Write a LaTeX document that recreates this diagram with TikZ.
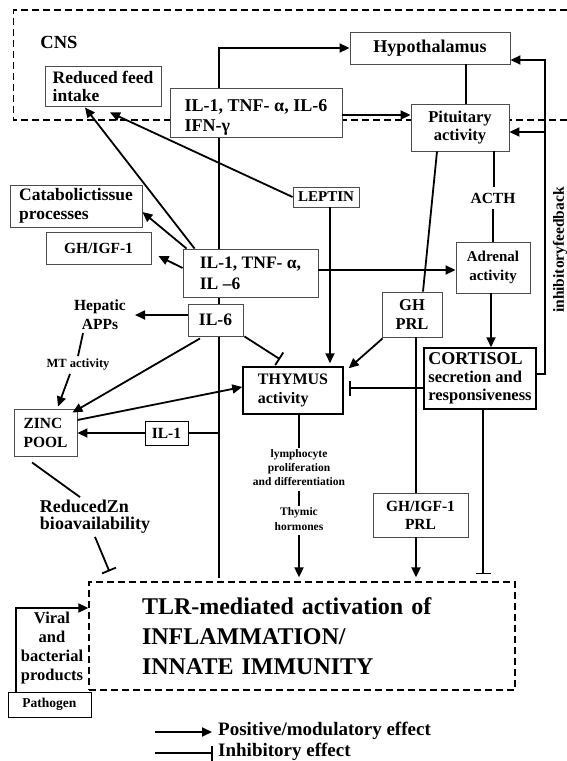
\documentclass[tikz,border=0pt]{standalone}
\usepackage{fontspec}
\setmainfont{Liberation Serif}
\usetikzlibrary{arrows.meta,backgrounds}
\newcommand\fsz[2]{\fontsize{#1}{#2}\selectfont}
\begin{document}
\begin{tikzpicture}[x=1pt,y=-1pt,
  box/.style={draw=black!70, line width=0.9pt, fill=white, inner sep=0pt, align=center},
  lbox/.style={box, align=left},
  tbox/.style={draw=black, line width=1.5pt, fill=white, inner sep=0pt, align=left},
  txt/.style={inner sep=0pt, align=center},
  ln/.style={line width=1.8pt},
  arr/.style={line width=1.8pt, -{Triangle[length=10pt,width=9pt]}},
  inh/.style={line width=1.8pt, -{Bar[width=15pt,line width=1.8pt]}},
  dsh/.style={line width=1.3pt, dash pattern=on 7pt off 4pt},
]
\useasboundingbox (0,0) rectangle (567,761);

% CNS region
\draw[dsh] (567,10) -- (13.7,10) -- (13.7,120) -- (567,120);
\node[txt, font=\bfseries\fsz{18.5}{20}] (cns) at (59,42) {CNS};

% boxes
\node[box, font=\bfseries\fsz{18}{20}, minimum width=160pt, minimum height=32pt] (hyp) at (430,48) {Hypothalamus};
\node[lbox, font=\bfseries\fsz{17.5}{18}, minimum width=116pt, minimum height=40pt] (rfi) at (103,86) {Reduced feed\\intake};
\node[lbox, font=\bfseries\fsz{18}{20}, minimum width=172pt, minimum height=49pt] (cyt1) at (256,112.5) {\rule{0pt}{22pt}IL-1, TNF- α, IL-6\\IFN-γ};
\node[box, font=\bfseries\fsz{16.5}{18}, minimum width=98pt, minimum height=47pt] (pit) at (460,127.5) {Pituitary\\activity};
\node[lbox, font=\bfseries\fsz{17.5}{19}, minimum width=132pt, minimum height=42pt] (cat) at (76,206) {Catabolictissue\\processes};
\node[box, font=\bfseries\fsz{15.5}{17}, minimum width=105pt, minimum height=32pt] (ghl) at (98.5,248) {GH/IGF-1};
\node[box, font=\bfseries\fsz{15}{16}, minimum width=66pt, minimum height=20pt] (lep) at (326,197) {LEPTIN};
\node[lbox, font=\bfseries\fsz{17.5}{21}, minimum width=135pt, minimum height=48pt] (cyt2) at (250.5,273) {IL-1, TNF- α,\\IL –6};
\node[box, font=\bfseries\fsz{15}{19}, minimum width=74pt, minimum height=51pt] (adr) at (493,267.5) {Adrenal\\activity};
\node[box, font=\bfseries\fsz{17.5}{19}, minimum width=55pt, minimum height=32pt] (il6) at (215.5,320) {IL-6};
\node[box, font=\bfseries\fsz{16.5}{19}, minimum width=60pt, minimum height=45pt] (ghprl) at (412,314.5) {GH\\PRL};
\node[tbox, font=\bfseries\fsz{16}{19}, minimum width=100pt, minimum height=47pt] (thy) at (293,390.5) {THYMUS\\activity};
\node[tbox, font=\bfseries\fsz{16.5}{18}, minimum width=112pt, minimum height=61pt] (cor) at (480,378.5) {{\fsz{18}{18}CORTISOL}\\secretion and\\responsiveness};
\node[lbox, font=\bfseries\fsz{15.5}{19}, minimum width=63pt, minimum height=47pt] (zinc) at (45.5,432.5) {ZINC\\POOL};
\node[box, draw=black, font=\bfseries\fsz{15.5}{17}, minimum width=43pt, minimum height=24pt] (il1) at (166.5,433) {IL-1};
\node[box, font=\bfseries\fsz{15.5}{18}, minimum width=95pt, minimum height=44pt] (ghigf) at (420.5,515) {GH/IGF-1\\PRL};
\node[draw=black, dsh, inner xsep=53pt, inner ysep=0pt, text width=320pt, minimum height=108pt, align=left, font=\bfseries\fsz{24}{30}] (tlr) at (302,636) {TLR-mediated activation of\\INFLAMMATION/\\INNATE IMMUNITY};
\node[box, draw=black, font=\bfseries\fsz{13.5}{15}, minimum width=83pt, minimum height=25pt] (path) at (49.5,704.5) {Pathogen};

% free texts
\node[txt, font=\bfseries\fsz{15.5}{19}] (hep) at (100,315) {Hepatic\\APPs};
\node[txt, font=\bfseries\fsz{12.5}{14}] (mt) at (78,365) {MT activity};
\node[txt, font=\bfseries\fsz{15.5}{17}, minimum height=22pt] (acth) at (493,198) {ACTH};
\node[txt, align=left, font=\bfseries\fsz{18}{17}] (rzn) at (95,517) {ReducedZn\\bioavailability};
\node[txt, font=\bfseries\fsz{11.5}{14}] (lym) at (299,468) {lymphocyte\\proliferation\\and differentiation};
\node[txt, font=\bfseries\fsz{11.5}{15}] (thh) at (299,519.5) {Thymic\\hormones};
\node[txt, font=\bfseries\fsz{16.5}{19}] (vir) at (52,648) {Viral\\and\\bacterial\\products};
\node[txt, rotate=90, font=\bfseries\fsz{15.5}{17}] (fbl) at (560,250) {inhibitoryfeedback};

% long vertical cytokine line (behind boxes)
\coordinate (vb) at (219,578);
\begin{scope}[on background layer]
  \draw[arr] (vb) |- (hyp.west);
\end{scope}
\draw[ln] (il1.east) -- (il1.east -| vb);

% CNS connections
\draw[arr] ([yshift=-2.5pt]cyt1.east) -- ([yshift=-2.5pt]cyt1.east -| pit.west);
\draw[ln] ([xshift=36pt]hyp.south) -- ([xshift=36pt]hyp.south |- pit.north);
\draw[ln] ([xshift=-23pt]pit.south) -- ([xshift=11pt]ghprl.north);
\draw[ln] ([xshift=34pt]pit.south) -- ([xshift=34pt]pit.south |- acth.north);
\draw[ln] (acth.south) -- (acth.south |- adr.north);
\draw[arr] ([xshift=-2pt]adr.south) -- ([xshift=-2pt]adr.south |- cor.north);

% inhibitory feedback
\coordinate (fbt) at (545,60);
\draw[arr] ([yshift=4.5pt]cor.east) -| (fbt) -- (fbt -| hyp.east);
\draw[arr] ([yshift=-4.5pt]pit.east -| fbt) -- ([yshift=-4.5pt]pit.east);

% cortisol effects
\draw[inh, shorten >=5pt] ([yshift=-9.5pt]cor.west) -- ([yshift=-9.5pt]cor.west -| thy.east);
\draw[inh, shorten >=7pt] ([xshift=3pt]cor.south) -- ([xshift=3pt]cor.south |- tlr.north);

% GH / PRL
\draw[arr] ([xshift=1pt,yshift=-1pt]ghprl.south west) -- ([xshift=5pt,yshift=-2pt]thy.north east);
\draw[ln] ([xshift=4pt]ghprl.south) -- ([xshift=4pt]ghprl.south |- ghigf.north);
\draw[arr, shorten >=4pt] ([xshift=-4.5pt]ghigf.south) -- ([xshift=-4.5pt]ghigf.south |- tlr.north);

% leptin
\draw[arr, shorten >=3pt] ([xshift=4pt]lep.south) -- ([xshift=4pt]lep.south |- thy.north);
\draw[arr] (lep.west) -- ([xshift=7pt,yshift=-6pt]rfi.south);

% cytokine effects
\draw[arr] ([xshift=12pt]cyt2.north west) -- ([xshift=-18pt,yshift=-1pt]rfi.south);
\draw[arr] ([xshift=4pt]cyt2.north west) -- ([yshift=-6pt]cat.east);
\draw[arr] ([yshift=5pt]cyt2.west) -- ([xshift=7pt,yshift=-8pt]ghl.east);
\draw[arr] ([yshift=3pt]cyt2.east) -- ([yshift=3pt]cyt2.east -| adr.west);

% IL-6
\draw[arr] ([yshift=5pt]il6.west) -- ([xshift=9pt]hep.east);
\draw[ln] ([xshift=-17pt,yshift=-3pt]hep.south) -- ([yshift=3pt]mt.north);
\draw[arr] ([xshift=-8pt,yshift=-3pt]mt.south) -- ([xshift=12.5pt,yshift=2pt]zinc.north);
\draw[arr] ([xshift=-15.5pt,yshift=-2pt]il6.south) -- ([xshift=-5pt,yshift=-4pt]zinc.north east);
\draw[inh] ([xshift=1pt]il6.south east) -- ([xshift=-13pt,yshift=7pt]thy.north);

% zinc
\draw[arr] ([yshift=12.5pt]zinc.east) -- ([yshift=3.5pt]thy.west);
\draw[arr] (il1.west) -- (il1.west -| zinc.east);
\draw[ln] ([xshift=18.5pt,yshift=-6pt]zinc.south west) -- ([xshift=-15pt,yshift=3pt]rzn.north);
\draw[inh] ([yshift=-3pt]rzn.south) -- ([xshift=21pt,yshift=10pt]tlr.north west);

% thymus outputs
\draw[ln] ([xshift=6pt]thy.south) -- ([xshift=6pt,yshift=2pt]thy.south |- lym.north);
\draw[ln, shorten <=5pt, shorten >=2pt] (lym.south) -- (thh.north);
\draw[arr, shorten <=4pt, shorten >=4pt] (thh.south) -- (thh.south |- tlr.north);

% pathogen
\draw[arr] ([xshift=-33.5pt]path.north) |- ([yshift=28pt]tlr.west);

% legend
\coordinate (la1) at (155,732);
\coordinate (la2) at (212,732);
\coordinate (lb1) at (155,753);
\coordinate (lb2) at (213,753);
\draw[arr] (la1) -- (la2);
\draw[inh] (lb1) -- (lb2);
\node[txt, anchor=west, font=\bfseries\fsz{19}{19}] (lt1) at (218,731) {Positive/modulatory effect};
\node[txt, anchor=west, font=\bfseries\fsz{19}{19}] (lt2) at (218,752) {Inhibitory effect};
\end{tikzpicture}
\end{document}
